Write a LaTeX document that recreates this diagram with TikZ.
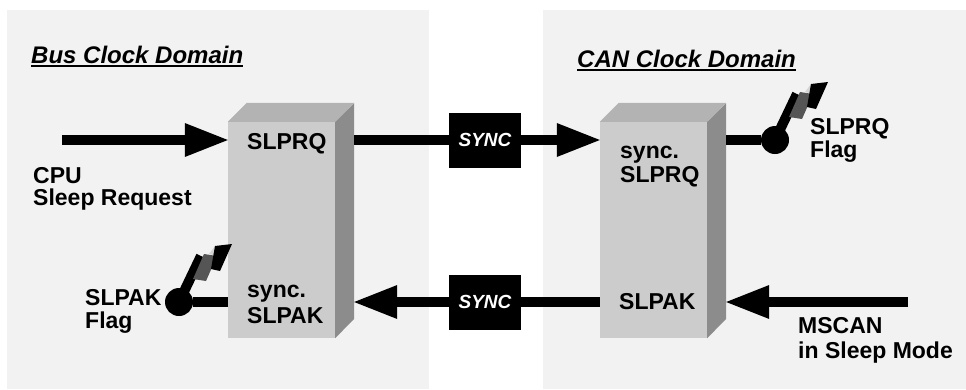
\documentclass[tikz,border=0pt]{standalone}
\usepackage{fontspec}
\setmainfont{Liberation Sans}
\usetikzlibrary{arrows.meta,calc}
\definecolor{panel}{HTML}{F2F2F2}
\definecolor{frontf}{HTML}{CCCCCC}
\definecolor{topf}{HTML}{B3B3B3}
\definecolor{sidef}{HTML}{8C8C8C}
\definecolor{flagdark}{HTML}{555555}
\definecolor{flaglight}{HTML}{D4D4D4}
\begin{document}
\begin{tikzpicture}[x=1pt,y=-1pt,
  lbl/.style={inner sep=0pt, anchor=base west, font=\fontsize{23}{23}\selectfont\bfseries},
  ttl/.style={inner sep=0pt, anchor=base west, font=\fontsize{24}{24}\selectfont\bfseries\itshape},
  blockface/.style={fill=frontf, draw=none, minimum width=107pt, minimum height=216pt, inner sep=0pt},
  syncbox/.style={fill=black, minimum width=72pt, minimum height=55pt, inner sep=0pt, text=white, font=\fontsize{19}{19}\selectfont\bfseries\itshape},
  wire/.style={line width=10pt},
  bigarrow/.style={line width=10pt, -{Triangle[length=43pt,width=34pt,line width=0pt]}},
  knob/.style={circle, fill=black, minimum size=28pt, inner sep=0pt},
]
\useasboundingbox (0,0) rectangle (966,389);
% panels
\fill[panel] (7,10) rectangle (429,389);
\fill[panel] (543,10) rectangle (966,389);

% titles
\node[ttl] (t1) at (31,63) {Bus Clock Domain};
\draw[line width=1.6pt] ($(t1.base west)+(0,3)$) -- ($(t1.base east)+(0,3)$);
\node[ttl] (t2) at (577,67) {CAN Clock Domain};
\draw[line width=1.6pt] ($(t2.base west)+(0,3)$) -- ($(t2.base east)+(0,3)$);

% blocks
\node[blockface] (lb) at (281.5,230) {};
\fill[topf] (lb.north west) -- ++(19,-19) -- ++(107,0) -- (lb.north east) -- cycle;
\fill[sidef] (lb.north east) -- ++(19,-19) -- ++(0,216) -- (lb.south east) -- cycle;
\coordinate (lbR) at ($(lb.north east)+(19,0)$);

\node[blockface] (rb) at (653.5,230) {};
\fill[topf] (rb.north west) -- ++(19,-19) -- ++(107,0) -- (rb.north east) -- cycle;
\fill[sidef] (rb.north east) -- ++(19,-19) -- ++(0,216) -- (rb.south east) -- cycle;
\coordinate (rbR) at ($(rb.north east)+(19,0)$);

% sync boxes
\node[syncbox] (sync1) at (485,140) {SYNC};
\node[syncbox] (sync2) at (485,302) {SYNC};

% switches
\node[knob] (sw1) at (775,140) {};
\node[knob] (sw2) at (179,302) {};

% connectors
\coordinate (cpuin) at (62,140);
\draw[bigarrow] (cpuin) -- (cpuin -| lb.west);
\draw[wire] (lbR |- sync1) -- (sync1);
\draw[bigarrow] (sync1.east) -- (sync1 -| rb.west);
\draw[wire] (rbR |- sw1) -- (sw1);
\coordinate (msin) at (908,302);
\draw[bigarrow] (msin) -- (msin -| rbR);
\draw[wire] (sync2 -| rb.west) -- (sync2);
\draw[bigarrow] (sync2.west) -- (sync2 -| lbR);
\draw[wire] (sw2) -- (sw2 -| lb.west);

% switch levers and flags
\foreach \sw in {sw1,sw2}{
  \begin{scope}[shift={(\sw)}]
    \draw[line width=10pt] (0,0) -- (22,-46);
    \fill[flagdark] (25,-48) -- (38,-46) -- (27,-21) -- (14,-23) -- cycle;
    \fill[flaglight] (30,-48) -- (36,-56) -- (38,-46) -- cycle;
    \fill[black] (36,-56) -- (53,-58) -- (41,-31) -- (32,-33) -- cycle;
  \end{scope}
}

% labels
\node[lbl] (l1) at (247,149) {SLPRQ};
\node[lbl] (l2a) at (247,297) {sync.};
\node[lbl] (l2b) at (247,323) {SLPAK};
\node[lbl] (r1a) at (620,158) {sync.};
\node[lbl] (r1b) at (620,182) {SLPRQ};
\node[lbl] (r2) at (619,309) {SLPAK};
\node[lbl] (cpu1) at (33,183) {CPU};
\node[lbl] (cpu2) at (33,205) {Sleep Request};
\node[lbl] (ms1) at (798,333) {MSCAN};
\node[lbl] (ms2) at (798,358) {in Sleep Mode};
\node[lbl] (f1a) at (810,134) {SLPRQ};
\node[lbl] (f1b) at (810,157) {Flag};
\node[lbl] (f2a) at (85,305) {SLPAK};
\node[lbl] (f2b) at (85,328) {Flag};
\end{tikzpicture}
\end{document}
